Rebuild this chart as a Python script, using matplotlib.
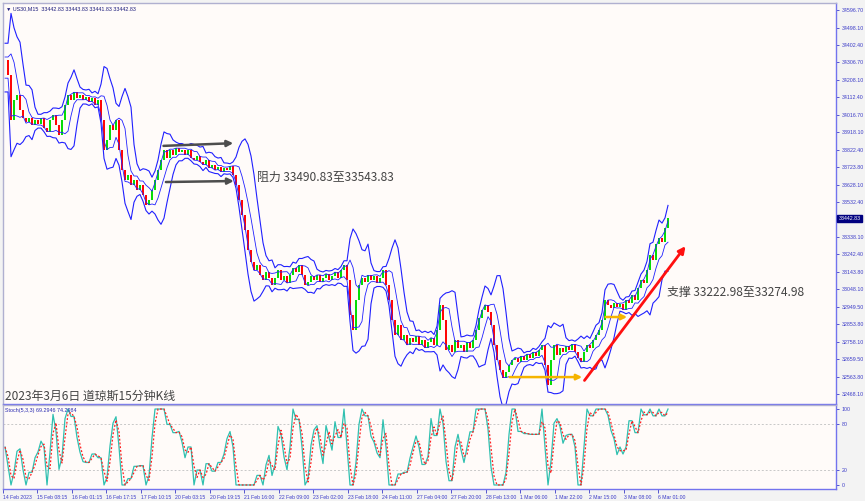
import numpy as np
import pandas as pd
import matplotlib
matplotlib.use("Agg")
import matplotlib.pyplot as plt
from matplotlib.transforms import blended_transform_factory

plt.rcParams['font.family'] = ['Noto Sans CJK SC', 'DejaVu Sans']
small_font = ['Liberation Sans', 'DejaVu Sans']

# US30 M15 closes (one value per ~6 bars)
closes = [
    34319, 34236, 33987, 34098, 34125, 34042, 33998, 33976, 33998, 33959,
    33987, 33965, 33998, 33942, 33920, 33987, 34015, 33959, 33904, 33987,
    34070, 34125, 34098, 34142, 34109, 34125, 34098, 34114, 34087, 34109,
    34070, 34098, 33987, 33821, 33876, 33959, 33931, 33987, 33821, 33710,
    33654, 33682, 33627, 33654, 33599, 33627, 33571, 33516, 33543, 33599,
    33654, 33710, 33765, 33821, 33776, 33821, 33793, 33832, 33809, 33821,
    33793, 33821, 33776, 33765, 33787, 33754, 33737, 33765, 33721, 33737,
    33710, 33726, 33699, 33721, 33710, 33732, 33682, 33627, 33543, 33460,
    33377, 33266, 33200, 33155, 33183, 33128, 33100, 33144, 33111, 33072,
    33111, 33155, 33100, 33122, 33083, 33128, 33167, 33144, 33183, 33128,
    33072, 33089, 33122, 33100, 33128, 33089, 33111, 33133, 33100, 33122,
    33144, 33111, 33155, 33183, 33100, 32906, 32823, 32989, 33072, 33111,
    33089, 33128, 33100, 33122, 33083, 33111, 33155, 33072, 32989, 32878,
    32795, 32851, 32767, 32795, 32740, 32779, 32756, 32790, 32740, 32767,
    32723, 32756, 32779, 32740, 32823, 32961, 32878, 32712, 32740, 32701,
    32767, 32723, 32740, 32701, 32756, 32723, 32767, 32823, 32889, 32934,
    32961, 32923, 32851, 32740, 32657, 32601, 32557, 32590, 32629, 32657,
    32668, 32645, 32679, 32657, 32690, 32668, 32701, 32679, 32712, 32740,
    32629, 32518, 32657, 32740, 32684, 32723, 32701, 32734, 32712, 32745,
    32701, 32668, 32645, 32701, 32740, 32723, 32767, 32795, 32823, 32878,
    32989, 32961, 32945, 32972, 32950, 32967, 32934, 32989, 32972, 33017,
    32989, 33056, 33100, 33083, 33155, 33239, 33211, 33300, 33333, 33311,
    33388, 33442.83,
]
last_price = 33442.83

price_ticks = [34596.70, 34498.10, 34402.40, 34306.70, 34208.10, 34112.40,
               34016.70, 33918.10, 33822.40, 33723.80, 33628.10, 33532.40,
               33338.10, 33242.40, 33143.80, 33048.10, 32949.50, 32853.80,
               32758.10, 32659.50, 32563.80, 32468.10]
time_labels = ["14 Feb 2023", "15 Feb 08:15", "16 Feb 01:15", "16 Feb 17:15",
               "17 Feb 10:15", "20 Feb 03:15", "20 Feb 19:15", "21 Feb 16:00",
               "22 Feb 09:00", "23 Feb 02:00", "23 Feb 18:00", "24 Feb 11:00",
               "27 Feb 04:00", "27 Feb 20:00", "28 Feb 13:00", "1 Mar 06:00",
               "1 Mar 22:00", "2 Mar 15:00", "3 Mar 08:00", "6 Mar 01:00"]
stoch_ticks = [100, 80, 20, 0]

resist_text = "阻力 33490.83至33543.83"
support_text = "支撑 33222.98至33274.98"
caption = "2023年3月6日 道琼斯15分钟K线"

s = pd.Series(closes, dtype=float)
idx = np.arange(len(s))
opens = s.shift(1).fillna(s.iloc[0])

# bands
mid_o = s.rolling(6, min_periods=2).mean()
sd_o = s.rolling(6, min_periods=2).std()
up_o = (mid_o + 2.3 * sd_o).bfill()
dn_o = (mid_o - 2.3 * sd_o).bfill()
mid_i = s.rolling(4, min_periods=2).mean()
sd_i = s.rolling(4, min_periods=2).std()
up_i = (mid_i + 1.0 * sd_i).bfill()
dn_i = (mid_i - 1.0 * sd_i).bfill()

# stochastic
hi_bar = np.maximum(s, opens)
lo_bar = np.minimum(s, opens)
lo = lo_bar.rolling(3, min_periods=1).min()
hi = hi_bar.rolling(3, min_periods=1).max()
raw = (100 * (s - lo) / (hi - lo).replace(0, np.nan)).fillna(50)
k = raw.rolling(2, min_periods=1).mean()
d = k.rolling(2, min_periods=1).mean()

bg = '#fffbf9'
frame = '#7373ee'
lab = '#3b3bc8'

fig = plt.figure(figsize=(8.65, 5.01), dpi=100, facecolor='#f3f3f3')
ax = fig.add_axes([3 / 865, 1 - 404 / 501, 833 / 865, 401 / 501], facecolor=bg)
ax2 = fig.add_axes([3 / 865, 1 - 489 / 501, 833 / 865, 84 / 501], facecolor=bg)

xmin, xmax = -0.67, 277
for a in (ax, ax2):
    a.set_xlim(xmin, xmax)
    for sp in a.spines.values():
        sp.set_color(frame)
        sp.set_linewidth(1.0)
    a.spines['left'].set_color('#b0b0d0')
    a.spines['top'].set_color('#b0b0d0')

ax.set_ylim(32412.8, 34635.5)
ax2.set_ylim(-5.3, 105.3)

# candles
up = s >= opens
ax.vlines(idx[up], opens[up], s[up], color='#00dd00', lw=1.4)
ax.vlines(idx[~up], opens[~up], s[~up], color='#ff0000', lw=1.4)

ax.plot(idx, up_o, color='#2020ff', lw=0.8)
ax.plot(idx, dn_o, color='#2020ff', lw=0.8)
ax.plot(idx, up_i, color='#2020ff', lw=0.6)
ax.plot(idx, dn_i, color='#2020ff', lw=0.6)

# axes ticks
ax.yaxis.tick_right()
ax.set_yticks(price_ticks)
ax.set_yticklabels([f"{v:.2f}" for v in price_ticks])
ax.tick_params(axis='y', labelsize=3.8, colors=lab, length=2, width=0.6, pad=2)
ax.set_xticks([])

ax2.yaxis.tick_right()
ax2.set_yticks(stoch_ticks)
ax2.tick_params(axis='y', labelsize=3.8, colors=lab, length=2, width=0.6, pad=2)
step = 11.5
ax2.set_xticks([i * step - 0.67 for i in range(len(time_labels))])
ax2.set_xticklabels(time_labels, ha='left')
ax2.tick_params(axis='x', labelsize=3.7, colors=lab, length=3, width=0.6, pad=1)
for t in ax.get_yticklabels() + ax2.get_yticklabels() + ax2.get_xticklabels():
    t.set_fontfamily(small_font)

# current price box
tr = blended_transform_factory(ax.transAxes, ax.transData)
ax.text(1.003, last_price, f"{last_price:.2f}", transform=tr, fontsize=3.8,
        color='white', va='center', ha='left', family=small_font,
        bbox=dict(boxstyle='square,pad=0.2', fc='#000080', ec='#000080'))

# stochastic panel
for lvl in (20, 80):
    ax2.axhline(lvl, color='#c8c8c8', lw=0.7, ls=(0, (2, 2)))
ax2.plot(idx, k, color='#30c0b0', lw=0.9)
ax2.plot(idx, d, color='#ff2020', lw=0.9, ls=(0, (1.5, 1.5)))

# annotations
ax.annotate('', xy=(77.0, 33859), xytext=(51.9, 33843),
            arrowprops=dict(arrowstyle='-|>', color='#4d4d4d', lw=1.8, mutation_scale=9))
ax.annotate('', xy=(77.2, 33649), xytext=(52.7, 33643),
            arrowprops=dict(arrowstyle='-|>', color='#4d4d4d', lw=1.8, mutation_scale=9))
ax.annotate('', xy=(193.3, 32562), xytext=(167.3, 32562),
            arrowprops=dict(arrowstyle='-|>', color='#f5b400', lw=1.8, mutation_scale=8))
ax.annotate('', xy=(208.3, 32895), xytext=(199.3, 32895),
            arrowprops=dict(arrowstyle='-|>', color='#f5b400', lw=1.8, mutation_scale=8))
ax.annotate('', xy=(227.4, 33300), xytext=(192.6, 32531),
            arrowprops=dict(arrowstyle='-|>', color='#ff1010', lw=2.0, mutation_scale=10))

ax.text(84, 33670, resist_text, fontsize=8.6, color='#444444', va='center', ha='left')
ax.text(220.7, 33033, support_text, fontsize=8.6, color='#444444', va='center', ha='left')
ax.text(0.0025, 0.003, caption, transform=ax.transAxes, fontsize=8.6,
        color='#444444', va='bottom', ha='left')

ax.text(0.004, 0.992, "\u25bc US30,M15  33442.83 33443.83 33441.83 33442.83",
        transform=ax.transAxes, fontsize=3.9, color='#1c1c7c', va='top', ha='left',
        family=small_font)
ax2.text(0.003, 0.965, "Stoch(5,3,3) 69.2946 74.2984", transform=ax2.transAxes,
         fontsize=3.9, color='#2a2ab0', va='top', ha='left', family=small_font)

fig.savefig("out.png", dpi=100, facecolor=fig.get_facecolor())
